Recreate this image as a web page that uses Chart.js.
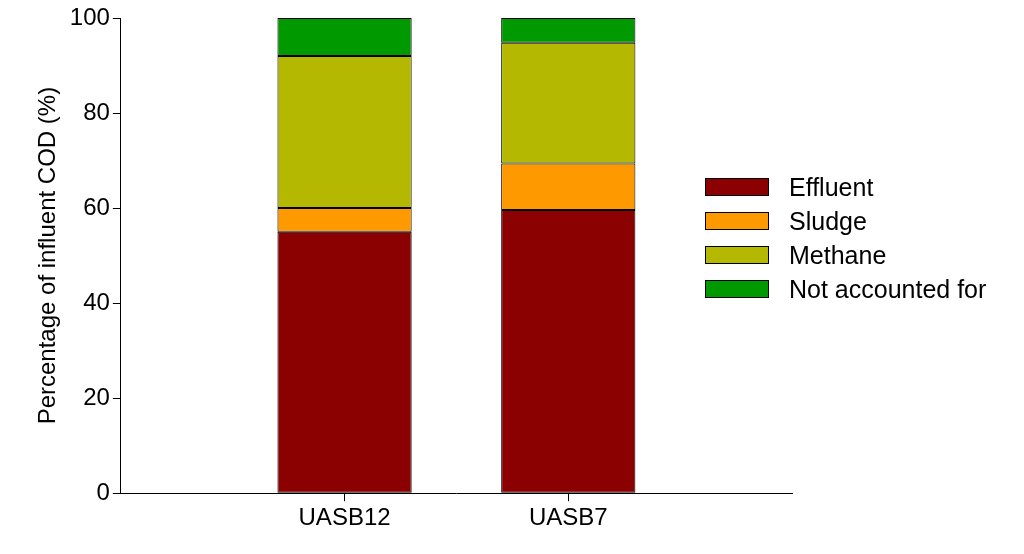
<!DOCTYPE html>
<html>
<head>
<meta charset="utf-8">
<script src="https://cdn.jsdelivr.net/npm/chart.js"></script>
<style>
  body { margin: 0; background: #fff; font-family: "Liberation Sans", Arial, sans-serif; }
  #wrap { position: relative; width: 1024px; height: 554px; }
  #legend { position: absolute; left: 705px; top: 170px; font-size: 25px; }
  .item { display: flex; align-items: center; height: 34px; }
  .box { width: 62px; height: 16px; border: 1px solid #000; margin-right: 20px; }
</style>
</head>
<body>
<div id="wrap">
  <canvas id="chart" width="1024" height="554"></canvas>
  <div id="legend"></div>
</div>
<script>
// categories padded with empty slots so bars sit at 1/3 and 2/3 of the axis
const categories = ['', 'UASB12', 'UASB7', ''];
const seriesNames = ['Effluent', 'Sludge', 'Methane', 'Not accounted for'];
const effluent = [null, 55, 59.6, null];
const sludge = [null, 5, 9.8, null];
const methane = [null, 32, 25.4, null];
const notAccounted = [null, 8, 5.2, null];
const colors = ['#8b0000', '#ff9900', '#b5b800', '#009900'];
const yTicks = [0, 20, 40, 60, 80, 100];

const seriesData = [effluent, sludge, methane, notAccounted];
const datasets = seriesNames.map((name, i) => ({
    label: name,
    data: seriesData[i],
    backgroundColor: colors[i],
    borderColor: '#000',
    borderWidth: 1,
    borderSkipped: false,
    barPercentage: 0.6,
    categoryPercentage: 1
}));

const legendDiv = document.getElementById('legend');
seriesNames.forEach((name, i) => {
    legendDiv.innerHTML += `<div class="item"><div class="box" style="background:${colors[i]}"></div>${name}</div>`;
});

const tickFont = { family: 'Liberation Sans', size: 24 };

new Chart(document.getElementById('chart'), {
    type: 'bar',
    data: { labels: categories, datasets: datasets },
    options: {
        responsive: false,
        animation: false,
        layout: { padding: { top: 18, right: 232, bottom: 18, left: 30 } },
        plugins: { legend: { display: false }, tooltip: { enabled: false } },
        scales: {
            x: {
                stacked: true,
                offset: false,
                grid: { display: true, offset: false, drawOnChartArea: false, color: '#000', tickLength: 8, tickColor: (c) => categories[c.index] ? '#000' : 'rgba(0,0,0,0)' },
                border: { color: '#000', width: 1 },
                ticks: { color: '#000', font: tickFont, maxRotation: 0 }
            },
            y: {
                stacked: true,
                min: 0,
                max: 100,
                afterBuildTicks: (axis) => { axis.ticks = yTicks.map(v => ({ value: v })); },
                grid: { display: true, drawOnChartArea: false, color: '#000', tickLength: 8 },
                border: { color: '#000', width: 1 },
                ticks: { color: '#000', font: tickFont },
                title: { display: true, text: 'Percentage of influent COD (%)', color: '#000', font: tickFont }
            }
        }
    }
});
</script>
</body>
</html>
